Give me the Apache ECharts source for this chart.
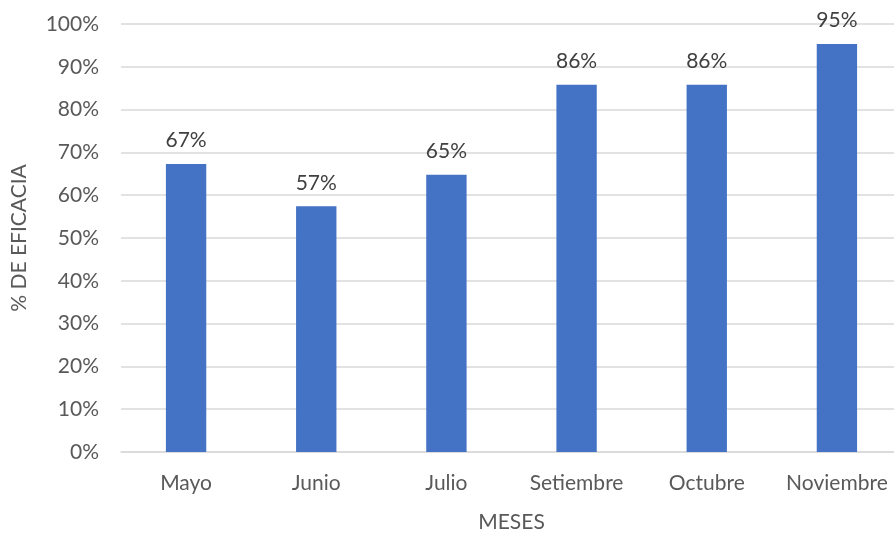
<!DOCTYPE html>
<html><head><meta charset="utf-8">
<script src="https://cdn.jsdelivr.net/npm/echarts@6/dist/echarts.min.js"></script>
<style>html,body{margin:0;padding:0;background:#fff}#c{width:894px;height:538px}</style>
</head><body><div id="c"></div>
<script>
const categories = ['Mayo', 'Junio', 'Julio', 'Setiembre', 'Octubre', 'Noviembre'];
const values = [67.3, 57.4, 64.8, 85.8, 85.8, 95.3];
const labels = ['67%', '57%', '65%', '86%', '86%', '95%'];
const yTicks = [0, 10, 20, 30, 40, 50, 60, 70, 80, 90, 100];

const FONT = 'Lato';
const TXT = '#595959';
const chart = echarts.init(document.getElementById('c'), null, {renderer: 'canvas'});
chart.setOption({
  animation: false,
  backgroundColor: '#fff',
  grid: {left: 121, right: -8, top: 24, bottom: 86, containLabel: false, outerBoundsMode: 'none'},
  xAxis: {
    type: 'category', data: categories,
    name: 'MESES', nameLocation: 'middle', nameGap: 60,
    nameTextStyle: {fontFamily: FONT, fontSize: 21, color: TXT},
    axisLine: {lineStyle: {color: '#d9d9d9', width: 1.5}},
    axisTick: {show: false},
    axisLabel: {fontFamily: FONT, fontSize: 21, color: TXT, margin: 21, interval: 0}
  },
  yAxis: {
    type: 'value', min: 0, max: 100, interval: 10,
    name: '% DE EFICACIA', nameLocation: 'middle', nameGap: 91, nameRotate: 90,
    nameTextStyle: {fontFamily: FONT, fontSize: 21, color: TXT},
    axisLine: {show: false}, axisTick: {show: false},
    splitLine: {lineStyle: {color: '#d9d9d9', width: 1.5}},
    axisLabel: {fontFamily: FONT, fontSize: 21, color: TXT, margin: 22,
      formatter: v => yTicks.includes(v) ? v + '%' : ''}
  },
  series: [{
    type: 'bar', data: values, barWidth: '31%',
    itemStyle: {color: '#4472C4'},
    label: {show: true, position: 'top', distance: 13, fontFamily: FONT, fontSize: 21, color: '#404040',
      formatter: p => labels[p.dataIndex]}
  }]
});
</script></body></html>
